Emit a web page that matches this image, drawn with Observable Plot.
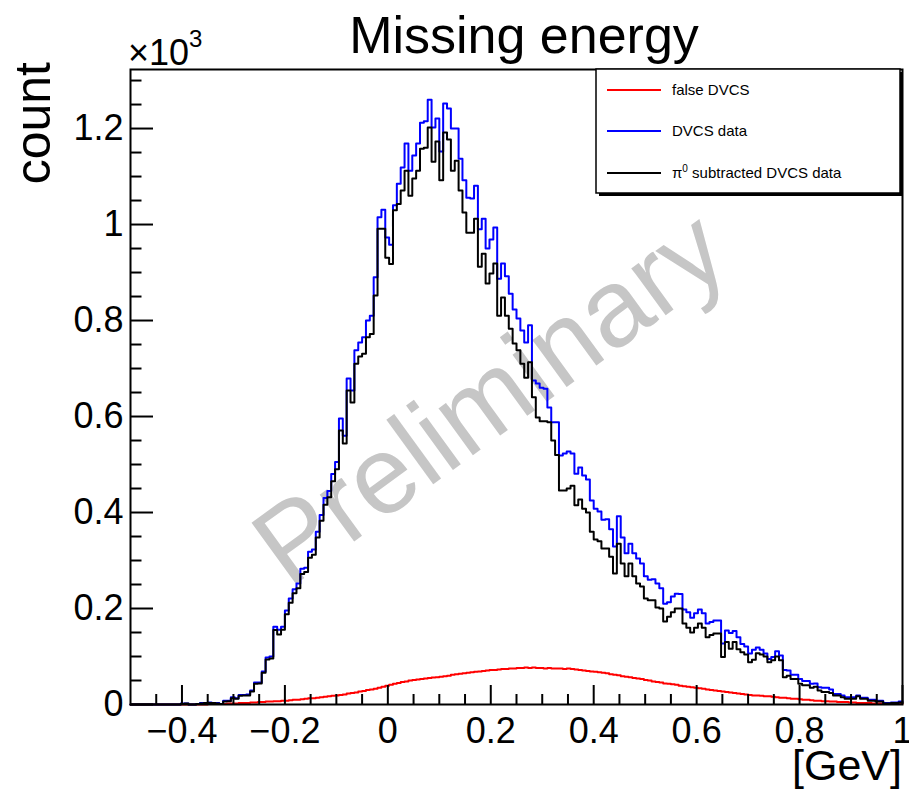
<!DOCTYPE html>
<html><head><meta charset="utf-8">
<script src="https://cdn.jsdelivr.net/npm/d3@7"></script>
<script src="https://cdn.jsdelivr.net/npm/@observablehq/plot@0.6"></script>
<style>body{margin:0;background:#fff;} svg{display:block}</style>
</head><body><div id="chart"></div>
<script>
// Histogram binning: 200 bins from -0.5 to 1 GeV
const binLow = -0.5, binWidth = 0.0075;

const falseDVCS = [
0,0,0,0,0,0,0,0,0,0, 0,0,0,0,0,0,0,0,0,0,
1,1,1,1,1,2,2,2,3,3, 3,4,4,5,5,6,6,7,7,8,
8,9,10,10,11,12,13,13,14,15, 16,17,18,19,20,21,23,24,25,27,
28,30,31,33,35,37,39,41,43,45, 47,48,50,51,52,53,54,55,56,57,
58,59,60,62,63,64,65,66,67,68, 69,70,71,72,72,73,74,74,75,75,
76,76,77,76,77,76,76,75,76,75, 75,75,74,75,74,73,72,71,70,69,
68,67,66,65,63,62,61,59,58,57, 55,54,53,51,50,48,47,46,44,43,
42,41,39,38,37,36,35,34,33,31, 30,29,28,27,26,25,24,23,22,21,
20,19,19,18,17,17,16,15,14,14, 13,12,12,11,10,10,9,8,8,7,
7,6,6,5,5,5,4,4,3,3, 3,3,2,2,2,2,2,1,1,1];

const dvcsData = [
0,0,0,0,0,0,0,0,0,0, 0,0,0,2,2,0,0,1,3,3,
4,3,3,1,8,8,15,13,20,20, 21,29,46,46,69,98,100,162,156,162,
196,221,240,252,283,285,318,323,360,395, 430,445,480,505,596,560,679,654,738,754,
765,800,810,890,1015,1031,973,958,1040,1085, 1119,1169,1112,1144,1169,1212,1215,1260,1202,1221,
1152,1252,1242,1200,1200,1137,1092,1056,1054,1081, 990,1012,950,969,994,887,919,892,856,823,
804,779,754,790,675,669,660,658,619,588, 588,519,523,527,523,481,494,477,469,425,
408,402,385,386,365,329,392,348,315,335, 315,304,294,267,260,261,252,242,210,213,
225,231,230,198,192,181,190,198,190,169, 172,175,175,127,154,149,153,140,126,121,
106,114,119,114,106,95,99,111,102,72, 71,62,62,53,49,49,43,44,36,35,
35,31,22,22,19,15,15,15,19,14, 14,10,10,8,8,3,3,4,4,6];

const subtractedData = [
0,0,0,0,0,0,0,0,0,0, 0,0,0,1,2,0,0,1,2,3,
3,3,2,1,6,7,13,12,18,19, 19,27,43,44,66,94,96,155,146,156,
188,212,232,242,272,276,306,312,348,383, 416,432,465,490,571,544,654,629,710,725,
731,765,772,852,991,991,931,918,1030,1043, 1071,1112,1060,1096,1112,1158,1160,1202,1131,1173,
1092,1192,1177,1112,1133,1071,1025,983,983,1012, 912,939,877,898,919,810,848,810,783,752,
738,710,681,713,640,598,590,590,588,550, 520,446,446,450,456,415,427,408,400,360,
344,340,325,325,308,273,335,294,267,294, 267,252,246,221,217,217,202,200,173,183,
192,200,200,169,160,150,160,169,160,140, 145,148,148,99,130,116,130,115,109,104,
88,93,107,104,100,88,92,100,92,57, 60,53,53,43,40,40,35,37,29,26,
26,24,19,19,15,12,12,12,17,12, 12,8,8,6,6,2,2,3,3,4];

const xMajorTicks = [-0.4,-0.2,0,0.2,0.4,0.6,0.8,1];
const xMinorTicks = [-0.45,-0.35,-0.3,-0.25,-0.15,-0.1,-0.05,0.05,0.1,0.15,0.25,0.3,0.35,0.45,0.5,0.55,0.65,0.7,0.75,0.85,0.9,0.95];
const yMajorTicks = [0,200,400,600,800,1000,1200];
const yMinorTicks = [50,100,150,250,300,350,450,500,550,650,700,750,850,900,950,1050,1100,1150,1250,1300];
const seriesColors = ["#ff0000","#0000ff","#000000"];

const W = 909, H = 791, mL = 130, mR = 7, mT = 69, mB = 87;
const xDomain = [-0.5, 1], yDomain = [0, 1323];
const innerW = W - mL - mR, innerH = H - mT - mB;
const ypx = p => p * (yDomain[1] - yDomain[0]) / innerH;
const xpx = p => p * (xDomain[1] - xDomain[0]) / innerW;
const font = "'Liberation Sans', Arial, Helvetica, sans-serif";

function steps(values) {
  const pts = values.map((v, i) => ({x: binLow + i * binWidth, y: v}));
  pts.push({x: binLow + values.length * binWidth, y: values[values.length - 1]});
  return pts;
}
const fmt = v => String(+v.toFixed(3)).replace("-", "\u2212");

const chart = Plot.plot({
  width: W, height: H,
  marginLeft: mL, marginRight: mR, marginTop: mT, marginBottom: mB,
  style: {fontFamily: font, background: "white", overflow: "visible"},
  x: {domain: xDomain, axis: null},
  y: {domain: yDomain, axis: null},
  marks: [
    Plot.text(["Preliminary"], {frameAnchor: "middle", text: d => d, rotate: -36, fontSize: 110, fill: "#c6c6c6", dx: -26, dy: 12, fontFamily: font}),
    Plot.line(steps(falseDVCS), {x: "x", y: "y", curve: "step-after", stroke: seriesColors[0], strokeWidth: 2}),
    Plot.line(steps(dvcsData), {x: "x", y: "y", curve: "step-after", stroke: seriesColors[1], strokeWidth: 2}),
    Plot.line(steps(subtractedData), {x: "x", y: "y", curve: "step-after", stroke: seriesColors[2], strokeWidth: 2}),
    Plot.ruleX(xMajorTicks, {x: d => d, y1: 0, y2: ypx(19), stroke: "black", strokeWidth: 2}),
    Plot.ruleX(xMinorTicks, {x: d => d, y1: 0, y2: ypx(10), stroke: "black", strokeWidth: 2}),
    Plot.ruleY(yMajorTicks, {y: d => d, x1: xDomain[0], x2: xDomain[0] + xpx(23), stroke: "black", strokeWidth: 2}),
    Plot.ruleY(yMinorTicks, {y: d => d, x1: xDomain[0], x2: xDomain[0] + xpx(11.5), stroke: "black", strokeWidth: 2}),
    Plot.frame({stroke: "black", strokeWidth: 2}),
    Plot.text(xMajorTicks, {x: d => d, frameAnchor: "bottom", lineAnchor: "top", dy: 13, text: d => fmt(d), fontSize: 36, fill: "black"}),
    Plot.text(yMajorTicks, {y: d => d, frameAnchor: "left", textAnchor: "end", dx: -7, text: d => fmt(d / 1000), fontSize: 36, fill: "black"})
  ]
});
document.getElementById("chart").appendChild(chart);

// Annotations: title, axis titles, multiplier, legend
const svg = d3.select(chart);
const g = svg.append("g").attr("font-family", font).attr("fill", "black").attr("text-anchor", "start");
g.append("text").attr("x", 524).attr("y", 53).attr("text-anchor", "middle").attr("font-size", 52).text("Missing energy");
const mult = g.append("text").attr("x", 128).attr("y", 65).attr("font-size", 36);
mult.append("tspan").text("\u00d710");
mult.append("tspan").attr("font-size", 24).attr("dy", -18).text("3");
g.append("text").attr("transform", "translate(50,62) rotate(-90)").attr("text-anchor", "end").attr("font-size", 50).text("count");
g.append("text").attr("x", 902).attr("y", 780).attr("text-anchor", "end").attr("font-size", 43).text("[GeV]");

const lg = svg.append("g").attr("font-family", font).attr("text-anchor", "start");
lg.append("rect").attr("x", 599).attr("y", 72).attr("width", 304).attr("height", 124).attr("fill", "black");
lg.append("rect").attr("x", 596).attr("y", 69).attr("width", 304).attr("height", 124).attr("fill", "white").attr("stroke", "black").attr("stroke-width", 1.5);
const entries = [
  {label: "false DVCS", color: seriesColors[0], y: 90},
  {label: "DVCS data", color: seriesColors[1], y: 131},
  {label: null, color: seriesColors[2], y: 173}
];
entries.forEach(e => {
  lg.append("line").attr("x1", 607).attr("x2", 661).attr("y1", e.y).attr("y2", e.y).attr("stroke", e.color).attr("stroke-width", 2);
  const t = lg.append("text").attr("x", 672).attr("y", e.y).attr("dy", "0.35em").attr("font-size", 15).attr("fill", "black").attr("text-anchor", "start");
  if (e.label) t.text(e.label);
  else {
    t.append("tspan").text("\u03c0");
    t.append("tspan").attr("font-size", 10).attr("dy", -6).text("0");
    t.append("tspan").attr("dy", 6).text(" subtracted DVCS data");
  }
});
</script></body></html>
